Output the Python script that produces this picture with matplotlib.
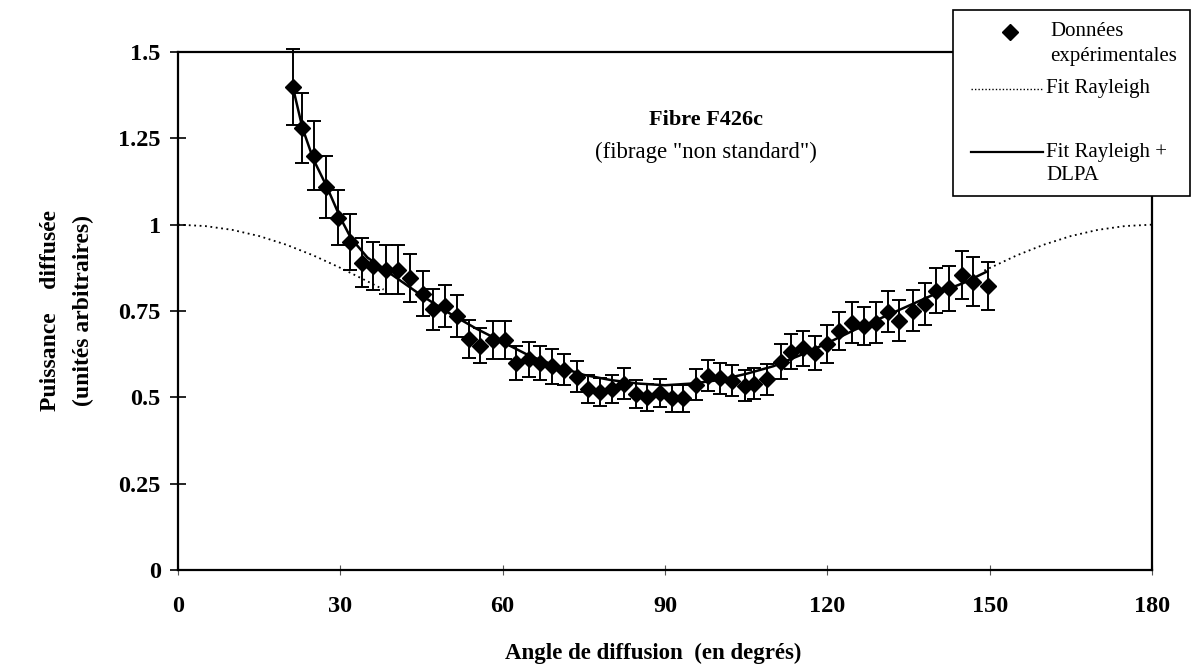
import matplotlib
matplotlib.use("Agg")
import matplotlib.pyplot as plt
from matplotlib.lines import Line2D
from matplotlib.patches import Rectangle

# ---------------- data ----------------
angles = [21.2, 22.9, 25.1, 27.4, 29.5, 31.7, 34.0, 36.0, 38.4, 40.7,
          42.9, 45.2, 47.2, 49.3, 51.6, 53.8, 55.8, 58.3, 60.4, 62.5,
          64.8, 66.9, 69.1, 71.3, 73.7, 75.8, 78.0, 80.2, 82.4, 84.7,
          86.7, 89.0, 91.3, 93.4, 95.7, 98.0, 100.1, 102.3, 104.8, 106.5,
          108.8, 111.4, 113.3, 115.5, 117.7, 120.0, 122.2, 124.5, 126.7, 129.0,
          131.3, 133.3, 135.8, 138.1, 140.1, 142.4, 144.9, 146.9, 149.6]
power = [1.40, 1.28, 1.20, 1.11, 1.02, 0.95, 0.89, 0.88, 0.87, 0.87,
         0.845, 0.80, 0.755, 0.765, 0.735, 0.67, 0.65, 0.665, 0.665, 0.60,
         0.61, 0.60, 0.59, 0.58, 0.56, 0.525, 0.515, 0.525, 0.54, 0.51,
         0.50, 0.513, 0.497, 0.497, 0.537, 0.563, 0.555, 0.548, 0.533, 0.539,
         0.552, 0.603, 0.632, 0.642, 0.629, 0.654, 0.693, 0.716, 0.707, 0.716,
         0.748, 0.722, 0.751, 0.770, 0.809, 0.816, 0.854, 0.835, 0.822]
power_err = [0.11, 0.10, 0.10, 0.09, 0.08, 0.08, 0.07, 0.07, 0.07, 0.07,
             0.07, 0.065, 0.06, 0.06, 0.06, 0.055, 0.05, 0.055, 0.055, 0.05,
             0.05, 0.05, 0.05, 0.045, 0.045, 0.04, 0.04, 0.04, 0.045, 0.04,
             0.04, 0.04, 0.04, 0.04, 0.045, 0.045, 0.045, 0.045, 0.045, 0.045,
             0.045, 0.05, 0.05, 0.05, 0.05, 0.055, 0.055, 0.06, 0.055, 0.06,
             0.06, 0.06, 0.06, 0.06, 0.065, 0.065, 0.07, 0.07, 0.07]

fit_angles = [21.2, 23, 25, 27.5, 30, 32, 35, 40, 45, 50, 55, 60, 65, 70, 75,
              80, 85, 90, 95, 100, 105, 110, 115, 120, 125, 130, 135, 140, 145, 149.6]
fit_dlpa = [1.40, 1.28, 1.19, 1.11, 1.02, 0.96, 0.905, 0.85, 0.795, 0.745, 0.70,
            0.66, 0.62, 0.59, 0.565, 0.55, 0.54, 0.535, 0.54, 0.55, 0.568, 0.59,
            0.622, 0.657, 0.695, 0.73, 0.765, 0.80, 0.83, 0.865]

ray_left_angles = [0, 5, 10, 15, 20, 25, 30, 35, 38]
ray_left_vals = [1.0, 0.996, 0.985, 0.967, 0.942, 0.911, 0.875, 0.836, 0.812]
ray_right_angles = [149, 155, 160, 165, 170, 175, 180]
ray_right_vals = [0.867, 0.911, 0.942, 0.967, 0.985, 0.996, 1.0]

x_ticks = [0, 30, 60, 90, 120, 150, 180]
y_ticks = [0, 0.25, 0.5, 0.75, 1, 1.25, 1.5]
y_tick_labels = ["0", "0.25", "0.5", "0.75", "1", "1.25", "1.5"]

# ---------------- figure ----------------
W, H = 1193, 668
fig = plt.figure(figsize=(W / 100, H / 100), dpi=100)
plt.rcParams['font.family'] = ['Liberation Serif', 'DejaVu Serif']

def fx(px):
    return px / W

def fy(py):
    return 1 - py / H

ax = fig.add_axes([fx(178), fy(570), fx(1152) - fx(178), fy(52) - fy(570)])
ax.set_xlim(0, 180)
ax.set_ylim(0, 1.5)

ax.plot(ray_left_angles, ray_left_vals, linestyle=(0, (1, 2)), color='black', lw=1.3, zorder=2)
ax.plot(ray_right_angles, ray_right_vals, linestyle=(0, (1, 2)), color='black', lw=1.3, zorder=2)
eb = ax.errorbar(angles, power, yerr=power_err, fmt='D', color='black', ms=8.5,
                 ecolor='black', elinewidth=1.4, capsize=5, capthick=1.4, zorder=3)
for artist in list(eb.lines[1]) + list(eb.lines[2]):
    artist.set_clip_on(False)
ax.plot(fit_angles, fit_dlpa, color='black', lw=1.8, zorder=4)

for s in ax.spines.values():
    s.set_linewidth(1.6)
    s.set_color('black')

ax.set_xticks(x_ticks)
ax.set_xticklabels([str(v) for v in x_ticks])
ax.set_yticks(y_ticks)
ax.set_yticklabels(y_tick_labels)
ax.tick_params(axis='y', direction='inout', length=11, width=1.2, pad=7,
               labelsize=17.5)
ax.tick_params(axis='x', direction='inout', length=7, width=0.8, pad=15,
               labelsize=17.5, color='#555555')
for lab in ax.get_xticklabels() + ax.get_yticklabels():
    lab.set_fontweight('bold')

ax.text(97.5, 1.303, "Fibre F426c", ha='center', va='center',
        fontsize=16, fontweight='bold')
ax.text(97.5, 1.21, '(fibrage "non standard")', ha='center', va='center',
        fontsize=16.5)

fig.text(fx(653), fy(653), "Angle de diffusion  (en degrés)", ha='center', va='center',
         fontsize=16.5, fontweight='bold')
fig.text(fx(67), fy(311), "Puissance    diffusée\n(unités arbitraires)", ha='center',
         va='center', rotation=90, fontsize=17, fontweight='bold', linespacing=1.75,
         multialignment='center')

# ---------------- legend box ----------------
box = Rectangle((fx(953), fy(196)), fx(1190) - fx(953), fy(10) - fy(196),
                transform=fig.transFigure, facecolor='white', edgecolor='black',
                lw=1.2, zorder=10)
fig.add_artist(box)
fig.add_artist(Line2D([fx(1010)], [fy(32)], marker='D', color='black', ms=8,
                      linestyle='none', transform=fig.transFigure, zorder=11))
fig.add_artist(Line2D([fx(971), fx(1043)], [fy(89), fy(89)], linestyle=(0, (1, 1.5)),
                      color='black', lw=1.0, transform=fig.transFigure, zorder=11))
fig.add_artist(Line2D([fx(971), fx(1043)], [fy(152), fy(152)], color='black', lw=1.6,
                      transform=fig.transFigure, zorder=11))
leg_fs = 15
for txt, px, py in [("Données", 1050, 32), ("expérimentales", 1050, 56),
                    ("Fit Rayleigh", 1046, 89), ("Fit Rayleigh +", 1046, 152),
                    ("DLPA", 1046, 175)]:
    fig.text(fx(px), fy(py), txt, ha='left', va='center', fontsize=leg_fs, zorder=12)

fig.savefig("out.png", dpi=100, facecolor='white')
